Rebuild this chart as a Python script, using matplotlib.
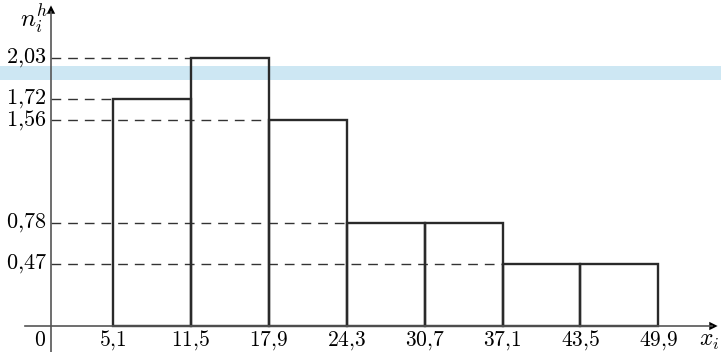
import matplotlib.pyplot as plt
import numpy as np

# histogram data
edges = [5.1, 11.5, 17.9, 24.3, 30.7, 37.1, 43.5, 49.9]
heights = [1.72, 2.03, 1.56, 0.78, 0.78, 0.47, 0.47]
edge_labels = ['5,1', '11,5', '17,9', '24,3', '30,7', '37,1', '43,5', '49,9']
level_values = [2.03, 1.72, 1.56, 0.78, 0.47]
level_labels = ['2,03', '1,72', '1,56', '0,78', '0,47']
# dashed guide runs up to this x
level_ends = [11.5, 5.1, 17.9, 24.3, 37.1]

plt.rcParams['mathtext.fontset'] = 'cm'
plt.rcParams['font.family'] = 'DejaVu Serif'

fig = plt.figure(figsize=(7.21, 3.52), dpi=100)
ax = fig.add_axes([0, 0, 1, 1])
ax.set_xlim(-4.19, 55.05)
ax.set_ylim(-0.197, 2.47)
ax.axis('off')

# light blue band from the background
ax.axhspan(1.864, 1.97, color='#cde7f3', lw=0, zorder=0)

# bars
lefts = np.array(edges[:-1])
widths = np.diff(edges)
ax.bar(lefts, heights, width=widths, align='edge', fill=False,
       edgecolor='#2a2a2a', linewidth=1.7, zorder=3)

# dashed guides and level labels
for v, lab, xe in zip(level_values, level_labels, level_ends):
    ax.plot([0, xe], [v, v], color='#333333', lw=1.0, dashes=(7, 5), zorder=2)
    ax.text(-0.35, v, '$' + lab.replace(',', '{,}') + '$', ha='right', va='center',
            fontsize=16)

# axes with arrows
ax.plot([-2.1, 54.3], [0, 0], color='#555555', lw=1.2, zorder=4)
ax.plot([0, 0], [-0.2, 2.38], color='#555555', lw=1.2, zorder=4)
ax.annotate('', xy=(55.0, 0), xytext=(53.5, 0),
            arrowprops=dict(arrowstyle='-|>', color='black', lw=0, mutation_scale=15))
ax.annotate('', xy=(0, 2.45), xytext=(0, 2.3),
            arrowprops=dict(arrowstyle='-|>', color='black', lw=0, mutation_scale=15))

# x tick labels
for x, lab in zip(edges, edge_labels):
    ax.text(x, -0.152, '$' + lab.replace(',', '{,}') + '$', ha='center', va='baseline',
            fontsize=15.5)
ax.text(-0.9, -0.152, '$0$', ha='center', va='baseline', fontsize=15.5)

# axis names
ax.text(-0.25, 2.32, r'$\boldsymbol{n_i^h}$', ha='right', va='center', fontsize=18)
ax.text(54.1, -0.11, r'$x_i$', ha='center', va='center', fontsize=17)

plt.savefig('out.png', dpi=100)
